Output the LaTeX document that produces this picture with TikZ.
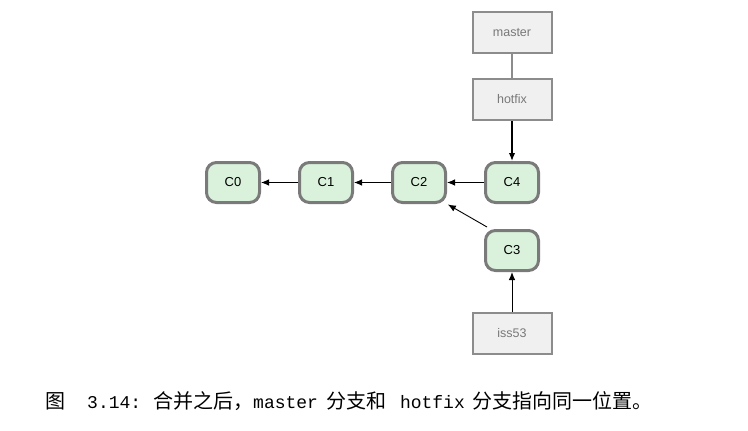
\documentclass[tikz,border=0pt]{standalone}
\usepackage{fontspec}
\setmainfont{Liberation Sans}
\newfontfamily\zhfont{Noto Sans CJK SC}
\newfontfamily\capmono{Liberation Mono}
\usepackage{tikz}
\usetikzlibrary{arrows.meta,positioning}
\usepackage{xcolor}
\definecolor{gitgreen}{RGB}{218,242,220}
\definecolor{gitborder}{RGB}{122,122,122}
\definecolor{refgray}{RGB}{240,240,240}
\definecolor{refborder}{RGB}{140,140,140}
\definecolor{reftext}{RGB}{120,120,120}
\tikzstyle{arrow} = [->,>={Latex[length=8pt,width=6.5pt]},line width=0.9pt,color=black]
\tikzstyle{commit} = [rectangle, rounded corners=10pt, minimum width=53pt, minimum height=40pt, text centered, draw=gitborder, fill=gitgreen, line width=3pt, font=\fontsize{13}{15}\selectfont]
\tikzstyle{branch} = [rectangle, minimum width=79pt, minimum height=41pt, text centered, draw=refborder, fill=refgray, line width=2pt, text=reftext, font=\fontsize{12.5}{14}\selectfont]
\newcommand{\captt}[1]{{\capmono\fontsize{18}{22}\selectfont #1}}

\begin{document}
\begin{tikzpicture}[x=1pt,y=-1pt]
\useasboundingbox (0,0) rectangle (748,431);
\node[commit] (c4) at (512,182.5) {C4};
\node[commit, left=37pt of c4] (c2) {C2};
\node[commit, left=37pt of c2] (c1) {C1};
\node[commit, left=37pt of c1] (c0) {C0};
\node[commit, below=25pt of c4] (c3) {C3};

\node[branch, above=40pt of c4] (hotfix) {hotfix};
\node[branch, above=24pt of hotfix] (master) {master};
\node[branch, below=40pt of c3] (iss53) {iss53};

\draw[refborder, line width=1.6pt] (master) -- (hotfix);
\draw[arrow, line width=1.4pt] (hotfix) -- (c4);
\draw[arrow] (c4) -- (c2);
\draw[arrow] (c2) -- (c1);
\draw[arrow] (c1) -- (c0);
\draw[arrow, shorten >=1pt] (c3.north west) ++(3pt,2pt) coordinate (c3tail) (c3tail) -- (c2.south east);
\draw[arrow] (iss53) -- (c3);

\node[anchor=west, inner sep=0pt, font=\fontsize{20}{24}\selectfont] (caption) at (45,401)
  {{\zhfont 图}\hspace{22pt}\captt{3.14:}\hspace{12pt}{\zhfont 合并之后，}\captt{master}\hspace{8pt}{\zhfont 分支和}\hspace{14pt}\captt{hotfix}\hspace{8pt}{\zhfont 分支指向同一位置。}};
\end{tikzpicture}
\end{document}
